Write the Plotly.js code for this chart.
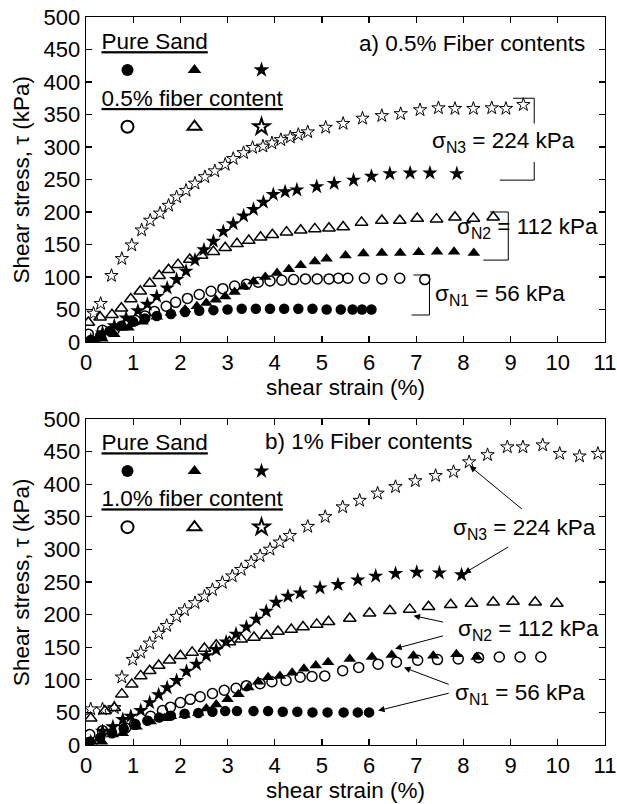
<!DOCTYPE html>
<html>
<head>
<meta charset="utf-8">
<script src="https://cdn.plot.ly/plotly-3.0.1.min.js"></script>
<style>html,body{margin:0;padding:0;background:#fff;}#chart{width:617px;height:804px;}</style>
</head>
<body>
<div id="chart"></div>
<script>
// ---------- Panel a) 0.5% fiber ----------
const aPS56x = [0.1,0.3,0.5,0.75,1.0,1.25,1.5,1.8,2.1,2.4,2.7,3.0,3.3,3.6,3.9,4.2,4.5,4.8,5.1,5.4,5.65,5.85,6.05];
const aPS56y = [3,10,17,25,31,36,40,43,46,48,49,50,51,51,51,51,51,51,50,50,50,50,50];
const aPS112x = [0.2,0.35,0.6,0.9,1.2,1.5,1.8,2.1,2.35,2.55,2.75,2.95,3.15,3.35,3.55,3.8,4.05,4.3,4.55,4.85,5.1,5.5,5.88,6.27,6.66,7.05,7.44,7.8,8.22];
const aPS112y = [2,5,12,22,31,39,45,50,55,60,65,70,77,85,93,100,106,112,118,124,128,133,136,137,137,138,139,139,137];
const aPS224x = [0.1,0.35,0.6,0.85,1.1,1.3,1.5,1.72,1.92,2.12,2.31,2.5,2.7,2.91,3.12,3.34,3.55,3.76,3.97,4.22,4.47,4.89,5.26,5.67,6.05,6.44,6.87,7.29,7.86];
const aPS224y = [3,14,25,37,48,58,70,83,96,109,126,142,155,170,182,194,204,215,227,231,234,239,244,249,255,259,260,260,259];
const aF56x = [0.05,0.35,0.6,0.85,1.05,1.25,1.45,1.7,1.9,2.15,2.4,2.65,2.9,3.15,3.4,3.65,3.9,4.15,4.4,4.65,4.9,5.15,5.35,5.55,5.9,6.27,6.65,7.18];
const aF56y = [12,18,19,26,33,40,47,55,61,67,73,78,82,86,89,92,94,95,96,97,97,97,98,98,98,97,98,96];
const aF112x = [0.05,0.3,0.55,0.75,0.95,1.15,1.35,1.55,1.75,1.95,2.2,2.45,2.7,2.95,3.2,3.45,3.7,3.95,4.25,4.55,4.85,5.15,5.45,5.84,6.27,6.65,7.02,7.43,7.82,8.21,8.63];
const aF112y = [30,38,42,52,66,78,90,102,111,119,127,133,139,145,151,156,161,165,169,172,174,175,177,184,187,187,190,189,192,190,192];
const aF224x = [0.16,0.31,0.54,0.76,0.97,1.18,1.36,1.57,1.75,1.92,2.12,2.31,2.52,2.73,2.95,3.12,3.34,3.53,3.75,3.94,4.13,4.33,4.5,4.7,5.08,5.45,5.86,6.27,6.67,7.08,7.47,7.82,8.21,8.6,8.9,9.27];
const aF224y = [44,59,102,128,149,172,187,198,210,223,233,244,254,263,273,282,291,299,301,306,311,315,319,323,330,336,344,348,351,357,360,359,359,360,359,365];

// ---------- Panel b) 1% fiber ----------
const bPS56x = [0.08,0.3,0.55,0.8,1.05,1.3,1.55,1.8,2.09,2.38,2.68,2.95,3.2,3.55,3.86,4.17,4.48,4.8,5.12,5.46,5.76,6.0];
const bPS56y = [5,11,18,25,31,37,42,45,48,49,51,52,52,52,52,51,51,50,50,50,50,50];
const bPS112x = [0.12,0.34,0.57,0.78,1.07,1.37,1.66,1.8,2.09,2.38,2.55,2.76,3.0,3.23,3.44,3.65,3.86,4.11,4.37,4.62,4.87,5.13,5.59,6.06,6.48,6.94,7.36,7.85,8.28];
const bPS112y = [5,5,16,18,28,36,41,44,46,49,56,62,70,78,88,97,104,106,111,117,122,127,132,135,138,137,137,139,135];
const bPS224x = [0.1,0.35,0.57,0.78,0.95,1.16,1.35,1.54,1.72,1.92,2.13,2.34,2.55,2.76,2.97,3.18,3.4,3.61,3.82,4.03,4.28,4.54,4.96,5.34,5.76,6.14,6.56,7.01,7.49,7.96];
const bPS224y = [5,21,28,39,44,53,65,77,88,99,113,124,137,146,158,170,181,193,205,219,228,233,241,246,253,259,263,265,264,261];
const bF56x = [0.08,0.35,0.65,0.84,1.03,1.37,1.62,1.79,2.0,2.21,2.42,2.68,2.93,3.18,3.4,3.69,3.94,4.24,4.54,4.79,5.06,5.44,5.78,6.19,6.58,7.03,7.45,7.89,8.32,8.76,9.2,9.64];
const bF56y = [16,22,23,26,32,44,53,58,65,70,74,79,84,87,91,94,97,99,104,105,106,114,119,124,127,130,131,132,134,135,135,135];
const bF112x = [0.1,0.4,0.6,0.76,0.97,1.16,1.35,1.54,1.77,2.0,2.25,2.51,2.76,3.04,3.29,3.56,3.83,4.07,4.35,4.6,4.89,5.14,5.59,6.01,6.44,6.86,7.26,7.73,8.17,8.63,9.05,9.52,9.98];
const bF112y = [41,52,57,78,93,106,114,122,130,137,142,148,153,158,162,165,168,174,177,181,185,189,194,202,206,208,212,215,217,219,220,219,217];
const bF224x = [0.1,0.35,0.6,0.76,0.99,1.16,1.35,1.54,1.71,1.92,2.09,2.31,2.51,2.68,2.89,3.1,3.29,3.5,3.69,3.9,4.11,4.32,4.7,5.07,5.44,5.8,6.18,6.56,6.98,7.41,7.79,8.12,8.51,8.93,9.26,9.68,10.04,10.46,10.85];
const bF224y = [55,55,57,104,131,142,156,171,183,197,207,218,228,238,249,259,269,280,290,300,311,321,335,350,365,375,386,396,405,413,419,434,445,457,457,460,447,443,447];

// ---------- Texts ----------
const titleA = 'a) 0.5% Fiber contents';
const titleB = 'b) 1% Fiber contents';
const legPure = 'Pure Sand';
const legFibA = '0.5% fiber content';
const legFibB = '1.0% fiber content';
const labN1 = 'σ<sub>N1</sub> = 56 kPa';
const labN2 = 'σ<sub>N2</sub> = 112 kPa';
const labN3 = 'σ<sub>N3</sub> = 224 kPa';
const xTitle = 'shear strain (%)';
const yTitle = 'Shear stress, τ (kPa)';

const FONT = '"Liberation Sans", Arial, sans-serif';
const TXT = 22.5;
const SIZES = {'circle': 10.5, 'circle-open': 10, 'triangle-up': 11, 'triangle-up-open': 11, 'star': 11.5, 'star-open': 10};

function tr(x, y, sym, xa, ya, leg, lw) {
  return {
    x: x, y: y, type: 'scatter', mode: 'markers', name: ' ',
    xaxis: xa, yaxis: ya, legend: leg, showlegend: true,
    marker: {symbol: sym, size: SIZES[sym], color: '#000', line: {color: '#000', width: lw}}
  };
}

const data = [
  tr(aPS56x, aPS56y, 'circle', 'x', 'y', 'legend', 0),
  tr(aPS112x, aPS112y, 'triangle-up', 'x', 'y', 'legend', 0),
  tr(aPS224x, aPS224y, 'star', 'x', 'y', 'legend', 0),
  tr(aF56x, aF56y, 'circle-open', 'x', 'y', 'legend2', 1.5),
  tr(aF112x, aF112y, 'triangle-up-open', 'x', 'y', 'legend2', 1.5),
  tr(aF224x, aF224y, 'star-open', 'x', 'y', 'legend2', 1),
  tr(bPS56x, bPS56y, 'circle', 'x2', 'y2', 'legend3', 0),
  tr(bPS112x, bPS112y, 'triangle-up', 'x2', 'y2', 'legend3', 0),
  tr(bPS224x, bPS224y, 'star', 'x2', 'y2', 'legend3', 0),
  tr(bF56x, bF56y, 'circle-open', 'x2', 'y2', 'legend4', 1.5),
  tr(bF112x, bF112y, 'triangle-up-open', 'x2', 'y2', 'legend4', 1.5),
  tr(bF224x, bF224y, 'star-open', 'x2', 'y2', 'legend4', 1)
];

function xax(anchor) {
  return {
    anchor: anchor, domain: [0, 1], range: [0, 11], dtick: 1, tick0: 0,
    ticks: 'inside', ticklen: 6, tickwidth: 1.2, tickcolor: '#000',
    showline: true, linewidth: 1.4, linecolor: '#000', mirror: 'ticks',
    showgrid: false, zeroline: false,
    tickfont: {family: FONT, size: 22, color: '#000'},
    title: {text: xTitle, font: {family: FONT, size: TXT, color: '#000'}, standoff: 1}
  };
}
function yax(anchor, dom) {
  return {
    anchor: anchor, domain: dom, range: [0, 500], dtick: 50, tick0: 0,
    ticks: 'inside', ticklen: 6, tickwidth: 1.2, tickcolor: '#000',
    showline: true, linewidth: 1.4, linecolor: '#000', mirror: 'ticks',
    showgrid: false, zeroline: false,
    tickfont: {family: FONT, size: 22, color: '#000'}
  };
}
function leg(title, x, y) {
  return {
    x: x, y: y, xanchor: 'left', yanchor: 'top', orientation: 'h',
    bgcolor: 'rgba(0,0,0,0)', borderwidth: 0,
    title: {text: '<u>' + title + '</u>', side: 'top', font: {family: FONT, size: TXT, color: '#000'}},
    font: {family: FONT, size: 22, color: '#000'},
    entrywidth: 6, entrywidthmode: 'pixels', itemwidth: 46, itemsizing: 'constant'
  };
}

const tf = {family: FONT, size: TXT, color: '#000'};
function note(text, x, y, xa, ya, xanchor) {
  return {text: text, x: x, y: y, xref: xa, yref: ya, showarrow: false, font: tf, xanchor: xanchor || 'center', yanchor: 'middle'};
}
function ytitle(y) {
  return {text: yTitle, x: -0.125, y: y, xref: 'paper', yref: 'paper', showarrow: false, textangle: -90,
          font: tf, xanchor: 'center', yanchor: 'middle'};
}
function arrow(x, y, ax, ay) {
  return {text: '', x: x, y: y, ax: ax, ay: ay, xref: 'x2', yref: 'y2', axref: 'x2', ayref: 'y2',
          showarrow: true, arrowhead: 2, arrowsize: 1.3, arrowwidth: 1, arrowcolor: '#000', standoff: 2};
}
function seg(x0, y0, x1, y1) {
  return {type: 'line', xref: 'x', yref: 'y', x0: x0, y0: y0, x1: x1, y1: y1, line: {color: '#000', width: 1}};
}

const layout = {
  width: 617, height: 804,
  margin: {l: 86, r: 12, t: 17, b: 59},
  paper_bgcolor: '#fff', plot_bgcolor: '#fff',
  font: {family: FONT, color: '#000'},
  xaxis: xax('y'), yaxis: yax('x', [0.5536, 1]),
  xaxis2: xax('y2'), yaxis2: yax('x2', [0, 0.4478]),
  legend: leg(legPure, 0.026, 0.996),
  legend2: leg(legFibA, 0.026, 0.918),
  legend3: leg(legPure, 0.026, 0.445),
  legend4: leg(legFibB, 0.026, 0.368),
  annotations: [
    ytitle(0.7768), ytitle(0.2239),
    note(titleA, 10.62, 460, 'x', 'y', 'right'),
    note(labN3, 8.84, 308, 'x', 'y'),
    note(labN2, 9.35, 175, 'x', 'y'),
    note(labN1, 8.78, 72, 'x', 'y'),
    note(titleB, 8.25, 465, 'x2', 'y2', 'right'),
    note(labN3, 9.3, 332, 'x2', 'y2'),
    note(labN2, 9.38, 176, 'x2', 'y2'),
    note(labN1, 9.2, 78, 'x2', 'y2'),
    arrow(8.1, 430, 9.27, 360),
    arrow(7.98, 262, 8.98, 305),
    arrow(6.9, 199, 7.6, 188),
    arrow(6.51, 147, 7.6, 168),
    arrow(6.7, 120, 7.72, 92),
    arrow(6.15, 52, 7.72, 80)
  ],
  shapes: [
    seg(9.05, 375, 9.5, 375), seg(9.5, 375, 9.5, 336),
    seg(9.5, 277, 9.5, 249), seg(8.77, 249, 9.5, 249),
    seg(8.56, 200, 8.95, 200), seg(8.95, 200, 8.95, 126), seg(8.42, 126, 8.95, 126),
    seg(6.94, 103, 7.28, 103), seg(7.28, 103, 7.28, 41.5), seg(6.9, 41.5, 7.28, 41.5)
  ]
};

Plotly.newPlot('chart', data, layout, {staticPlot: true, displayModeBar: false});
</script>
</body>
</html>
